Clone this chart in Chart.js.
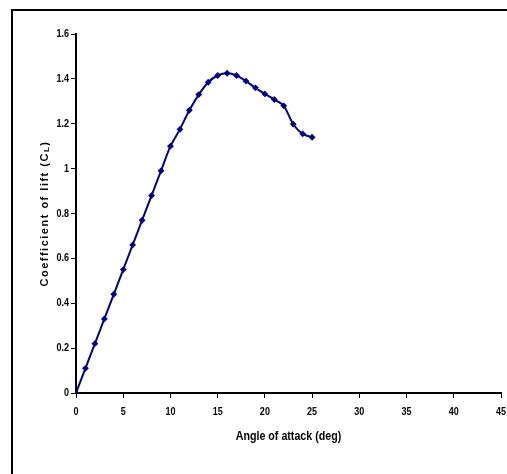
<!DOCTYPE html>
<html>
<head>
<meta charset="utf-8">
<script src="https://cdn.jsdelivr.net/npm/chart.js@4"></script>
<style>
  html, body { margin: 0; padding: 0; background: #fff; overflow: hidden; }
  /* only the left and top edges of the frame are in view */
  #frame { position: absolute; left: 11px; top: 9px; width: 900px; height: 900px;
           border-left: 2px solid #000; border-top: 2px solid #000; }
  canvas { display: block; position: relative; }
</style>
</head>
<body>
<div id="frame"></div>
<canvas id="liftChart" width="507" height="474"></canvas>
<script>
// --- Data ---
const angles = [0, 1, 2, 3, 4, 5, 6, 7, 8, 9, 10, 11, 12, 13, 14, 15, 16, 17, 18, 19, 20, 21, 22, 23, 24, 25];
const liftCoeff = [0, 0.11, 0.22, 0.33, 0.44, 0.55, 0.66, 0.77, 0.88, 0.99, 1.10, 1.175, 1.26, 1.33, 1.385,
                   1.415, 1.425, 1.415, 1.39, 1.36, 1.333, 1.308, 1.28, 1.198, 1.155, 1.14];
const xTicks = [0, 5, 10, 15, 20, 25, 30, 35, 40, 45];
const yTicks = [0, 0.2, 0.4, 0.6, 0.8, 1, 1.2, 1.4, 1.6];
const xTitle = "Angle of attack (deg)";
const yTitle = ["Coefficient of lift (C", "L", ")"];

const navy = "#000080";
const sans = "'Liberation Sans', Arial, sans-serif";

// text squeezed sideways, like the narrow font of the original
function condensedText(ctx, text, x, y, sx){
    ctx.save();
    ctx.translate(x, y);
    ctx.scale(sx, 1);
    ctx.fillText(text, 0, 0);
    ctx.restore();
}

// --- tick labels and axis titles ---
const labelPlugin = {
    id: "labels",
    afterDraw(chart){
        const ctx = chart.ctx;
        const area = chart.chartArea;
        const xs = chart.scales.x, ys = chart.scales.y;
        ctx.save();
        ctx.fillStyle = "#000";

        // tick labels, placed by the scales
        ctx.font = "bold 11px " + sans;
        ctx.textBaseline = "middle";
        ctx.textAlign = "center";
        xTicks.forEach(v => condensedText(ctx, String(v), xs.getPixelForValue(v), 412, 0.82));
        ctx.textAlign = "right";
        yTicks.forEach(v => condensedText(ctx, String(v), 69, ys.getPixelForValue(v), 0.82));

        // x title
        ctx.font = "bold 13px " + sans;
        ctx.textAlign = "center";
        condensedText(ctx, xTitle, (area.left + area.right) / 2, 436, 0.82);

        // y title, rotated, with a subscript L
        ctx.translate(45, (area.top + area.bottom) / 2);
        ctx.rotate(-Math.PI / 2);
        ctx.letterSpacing = "1.5px";
        const big = "bold 11px " + sans;
        const small = "bold 8px " + sans;
        ctx.font = big;
        const w1 = ctx.measureText(yTitle[0]).width;
        const w3 = ctx.measureText(yTitle[2]).width;
        ctx.font = small;
        const w2 = ctx.measureText(yTitle[1]).width;
        let x = -(w1 + w2 + w3) / 2;
        ctx.textAlign = "left";
        ctx.font = big;
        ctx.fillText(yTitle[0], x, 0);
        x += w1;
        ctx.font = small;
        ctx.fillText(yTitle[1], x, 2);
        x += w2;
        ctx.font = big;
        ctx.fillText(yTitle[2], x, 0);
        ctx.restore();
    }
};

new Chart(document.getElementById("liftChart"), {
    type: "line",
    data: {
        labels: angles,
        datasets: [{
            data: angles.map((a, i) => ({x: a, y: liftCoeff[i]})),
            borderColor: navy,
            backgroundColor: navy,
            borderWidth: 2,
            pointStyle: "rectRot",
            pointRadius: 2,
            pointHoverRadius: 2,
            tension: 0.25,
            fill: false
        }]
    },
    options: {
        responsive: false,
        animation: false,
        events: [],
        layout: { padding: { left: 0, top: 34, right: 6, bottom: 0 } },
        plugins: { legend: { display: false }, tooltip: { enabled: false } },
        scales: {
            x: {
                type: "linear",
                min: 0, max: 45,
                afterBuildTicks: s => { s.ticks = xTicks.map(v => ({value: v})); },
                afterFit: s => { s.height = 81; },
                border: { color: "#000", width: 2 },
                grid: { drawOnChartArea: false, color: "#000", tickLength: 5, tickWidth: 1 },
                ticks: { display: false }
            },
            y: {
                type: "linear",
                min: 0, max: 1.6,
                afterBuildTicks: s => { s.ticks = yTicks.map(v => ({value: v})); },
                afterFit: s => { s.width = 76; },
                border: { color: "#000", width: 2 },
                grid: { drawOnChartArea: false, color: "#000", tickLength: 5, tickWidth: 1 },
                ticks: { display: false }
            }
        }
    },
    plugins: [labelPlugin]
});
</script>
</body>
</html>
